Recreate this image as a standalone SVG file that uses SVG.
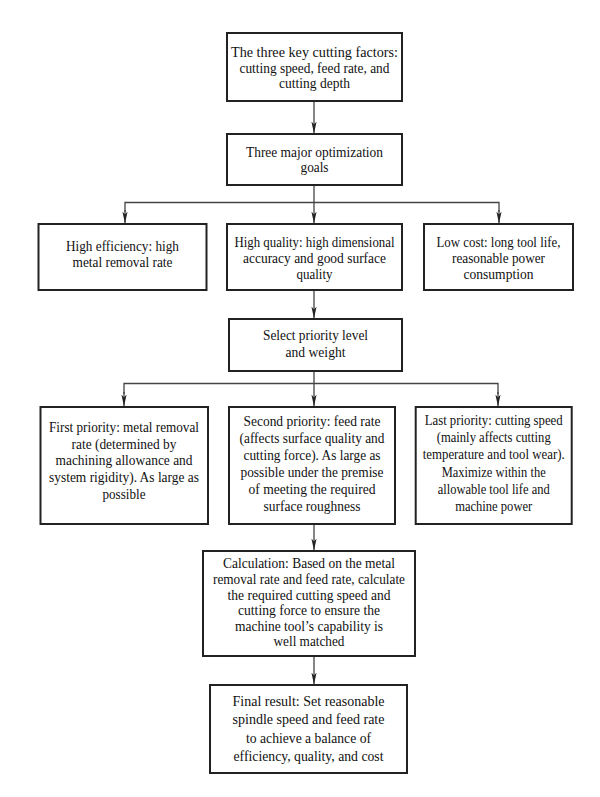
<svg xmlns="http://www.w3.org/2000/svg" width="600" height="797" viewBox="0 0 600 797">
<defs>
<style>
.box{fill:#fff;stroke:#222;stroke-width:2}
.t{font-family:"Liberation Serif","Times New Roman",serif;font-size:15px;fill:#111;text-anchor:middle}
.c{fill:none;stroke:#444;stroke-width:1.3}
</style>
<marker id="ah" markerUnits="userSpaceOnUse" markerWidth="13" markerHeight="6" refX="12" refY="2.6" orient="auto">
<path d="M0,0 L12,2.6 L0,5.2 L3,2.6 Z" fill="#222"/>
</marker>
</defs>
<rect width="600" height="797" fill="#fff"/>
<g id="connectors">
<line class="c" x1="314" y1="101" x2="314" y2="133.5" marker-end="url(#ah)"/>
<line class="c" x1="314" y1="185" x2="314" y2="223.5" marker-end="url(#ah)"/>
<polyline class="c" points="125,212 125,202.5 499,202.5 499,212"/>
<line class="c" x1="125" y1="210" x2="125" y2="223.5" marker-end="url(#ah)"/>
<line class="c" x1="499" y1="210" x2="499" y2="223.5" marker-end="url(#ah)"/>
<line class="c" x1="314" y1="290" x2="314" y2="318.5" marker-end="url(#ah)"/>
<line class="c" x1="314" y1="371" x2="314" y2="406.5" marker-end="url(#ah)"/>
<polyline class="c" points="124,394 124,383.5 498,383.5 498,394"/>
<line class="c" x1="124" y1="392" x2="124" y2="406.5" marker-end="url(#ah)"/>
<line class="c" x1="498" y1="392" x2="498" y2="406.5" marker-end="url(#ah)"/>
<line class="c" x1="314" y1="524" x2="314" y2="550.5" marker-end="url(#ah)"/>
<line class="c" x1="314" y1="656" x2="314" y2="684.5" marker-end="url(#ah)"/>
</g>
<g id="n1">
<rect class="box" x="227" y="33" width="175" height="68"/>
<text class="t" x="314.5" y="57.3" textLength="167" lengthAdjust="spacingAndGlyphs">The three key cutting factors:</text>
<text class="t" x="314.5" y="72.7" textLength="150" lengthAdjust="spacingAndGlyphs">cutting speed, feed rate, and</text>
<text class="t" x="314.5" y="88" textLength="71" lengthAdjust="spacingAndGlyphs">cutting depth</text>
</g>
<g id="n2">
<rect class="box" x="227" y="134" width="175" height="51"/>
<text class="t" x="314.5" y="156.7" textLength="137" lengthAdjust="spacingAndGlyphs">Three major optimization</text>
<text class="t" x="314.5" y="172" textLength="28" lengthAdjust="spacingAndGlyphs">goals</text>
</g>
<g id="n3">
<rect class="box" x="38.5" y="224" width="168" height="66"/>
<text class="t" x="122.5" y="251" textLength="113" lengthAdjust="spacingAndGlyphs">High efficiency: high</text>
<text class="t" x="122.5" y="267" textLength="100" lengthAdjust="spacingAndGlyphs">metal removal rate</text>
</g>
<g id="n4">
<rect class="box" x="227" y="224" width="175" height="66"/>
<text class="t" x="314.5" y="246.7" textLength="160" lengthAdjust="spacingAndGlyphs">High quality: high dimensional</text>
<text class="t" x="314.5" y="262.7" textLength="143" lengthAdjust="spacingAndGlyphs">accuracy and good surface</text>
<text class="t" x="314.5" y="278.7" textLength="36" lengthAdjust="spacingAndGlyphs">quality</text>
</g>
<g id="n5">
<rect class="box" x="424" y="224" width="149" height="66"/>
<text class="t" x="498.5" y="247" textLength="124" lengthAdjust="spacingAndGlyphs">Low cost: long tool life,</text>
<text class="t" x="498.5" y="263" textLength="93" lengthAdjust="spacingAndGlyphs">reasonable power</text>
<text class="t" x="498.5" y="278.7" textLength="70" lengthAdjust="spacingAndGlyphs">consumption</text>
</g>
<g id="n6">
<rect class="box" x="229" y="319" width="173" height="52"/>
<text class="t" x="315.5" y="340" textLength="105" lengthAdjust="spacingAndGlyphs">Select priority level</text>
<text class="t" x="315.5" y="356.7" textLength="60" lengthAdjust="spacingAndGlyphs">and weight</text>
</g>
<g id="n7">
<rect class="box" x="40.5" y="407" width="167.5" height="117"/>
<text class="t" x="124" y="432" textLength="150" lengthAdjust="spacingAndGlyphs">First priority: metal removal</text>
<text class="t" x="124" y="448.7" textLength="105" lengthAdjust="spacingAndGlyphs">rate (determined by</text>
<text class="t" x="124" y="465.4" textLength="137" lengthAdjust="spacingAndGlyphs">machining allowance and</text>
<text class="t" x="124" y="482" textLength="150" lengthAdjust="spacingAndGlyphs">system rigidity). As large as</text>
<text class="t" x="124" y="498.7" textLength="43" lengthAdjust="spacingAndGlyphs">possible</text>
</g>
<g id="n8">
<rect class="box" x="229" y="407" width="166" height="117"/>
<text class="t" x="312" y="426" textLength="137" lengthAdjust="spacingAndGlyphs">Second priority: feed rate</text>
<text class="t" x="312" y="443" textLength="145" lengthAdjust="spacingAndGlyphs">(affects surface quality and</text>
<text class="t" x="312" y="460" textLength="137" lengthAdjust="spacingAndGlyphs">cutting force). As large as</text>
<text class="t" x="312" y="477" textLength="143" lengthAdjust="spacingAndGlyphs">possible under the premise</text>
<text class="t" x="312" y="494" textLength="127" lengthAdjust="spacingAndGlyphs">of meeting the required</text>
<text class="t" x="312" y="511" textLength="97" lengthAdjust="spacingAndGlyphs">surface roughness</text>
</g>
<g id="n9">
<rect class="box" x="415.7" y="407" width="156" height="117"/>
<text class="t" x="493.7" y="425" textLength="138" lengthAdjust="spacingAndGlyphs">Last priority: cutting speed</text>
<text class="t" x="493.7" y="442.2" textLength="114" lengthAdjust="spacingAndGlyphs">(mainly affects cutting</text>
<text class="t" x="493.7" y="459.4" textLength="142" lengthAdjust="spacingAndGlyphs">temperature and tool wear).</text>
<text class="t" x="493.7" y="476.6" textLength="104" lengthAdjust="spacingAndGlyphs">Maximize within the</text>
<text class="t" x="493.7" y="493.8" textLength="112" lengthAdjust="spacingAndGlyphs">allowable tool life and</text>
<text class="t" x="493.7" y="511" textLength="77" lengthAdjust="spacingAndGlyphs">machine power</text>
</g>
<g id="n10">
<rect class="box" x="203" y="551" width="212" height="105"/>
<text class="t" x="309" y="568.3" textLength="172" lengthAdjust="spacingAndGlyphs">Calculation: Based on the metal</text>
<text class="t" x="309" y="584" textLength="192" lengthAdjust="spacingAndGlyphs">removal rate and feed rate, calculate</text>
<text class="t" x="309" y="599.5" textLength="163" lengthAdjust="spacingAndGlyphs">the required cutting speed and</text>
<text class="t" x="309" y="615" textLength="142" lengthAdjust="spacingAndGlyphs">cutting force to ensure the</text>
<text class="t" x="309" y="630.5" textLength="148" lengthAdjust="spacingAndGlyphs">machine tool’s capability is</text>
<text class="t" x="309" y="646" textLength="71" lengthAdjust="spacingAndGlyphs">well matched</text>
</g>
<g id="n11">
<rect class="box" x="210" y="685" width="197" height="88"/>
<text class="t" x="308.5" y="706" textLength="152" lengthAdjust="spacingAndGlyphs">Final result: Set reasonable</text>
<text class="t" x="308.5" y="724.3" textLength="152" lengthAdjust="spacingAndGlyphs">spindle speed and feed rate</text>
<text class="t" x="308.5" y="742.6" textLength="125" lengthAdjust="spacingAndGlyphs">to achieve a balance of</text>
<text class="t" x="308.5" y="761" textLength="150" lengthAdjust="spacingAndGlyphs">efficiency, quality, and cost</text>
</g>
</svg>
